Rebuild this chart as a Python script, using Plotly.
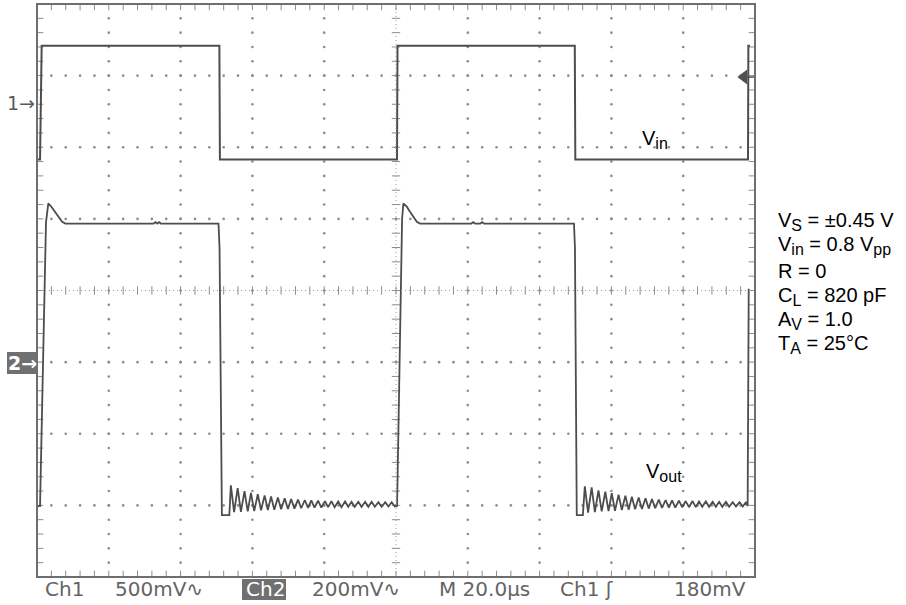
import plotly.graph_objects as go
import numpy as np

# ---------------- scope settings ----------------
time_per_div_us = 20.0
n_xdiv = 10
n_ydiv = 8
ch1_volts_per_div = 0.5
ch2_volts_per_div = 0.2
ch1_position_div = 2.62
ch2_position_div = -1.0
trigger_level_v = 0.18
trigger_time_us = 196.9

# ---------------- Ch1 : Vin (volts vs microseconds) ----------------
vin_t = [0.0, 0.85, 1.3, 50.8, 50.95, 100.28, 100.42, 149.8, 149.95, 198.05, 198.15, 198.6]
vin_v = [-0.395, -0.395, 0.398, 0.398, -0.395, -0.395, 0.398, 0.398, -0.395, -0.395, 0.398, 0.398]

# ---------------- Ch2 : Vout (volts vs microseconds) ----------------
vout_seg1_t = [0.0, 0.85, 2.5, 3.15, 4.0, 5.0, 6.0, 7.0, 7.9, 32.5, 33.0, 33.5, 34.0, 34.5,
               50.56, 50.85, 51.5, 53.57]
vout_seg1_v = [-0.402, -0.402, 0.39, 0.443, 0.434, 0.42, 0.406, 0.392, 0.387, 0.387, 0.391, 0.387, 0.391, 0.387,
               0.387, 0.318, -0.427, -0.427]

ring1_t = [54.0, 54.9, 55.9, 56.8, 57.8, 58.7, 59.6, 60.5, 61.5, 62.4, 63.4, 64.3, 65.2, 66.1, 67.1, 68.0,
           69.0, 69.9, 70.8, 71.7, 72.7, 73.6, 74.6, 75.5, 76.4, 77.3, 78.3, 79.2, 80.2, 81.1, 82.0, 82.9,
           83.9, 84.8, 85.8, 86.7, 87.6, 88.5, 89.5, 90.4, 91.4, 92.3, 93.2, 94.1, 95.1, 96.0, 97.0, 97.9,
           98.8, 99.7]
ring1_v = [-0.344, -0.419, -0.352, -0.418, -0.360, -0.417, -0.365, -0.416, -0.369, -0.414, -0.372, -0.413,
           -0.375, -0.412, -0.378, -0.411, -0.380, -0.410, -0.382, -0.409, -0.384, -0.408, -0.385, -0.407,
           -0.386, -0.406, -0.387, -0.406, -0.388, -0.405, -0.388, -0.405, -0.389, -0.405, -0.389, -0.404,
           -0.390, -0.404, -0.390, -0.404, -0.390, -0.404, -0.390, -0.404, -0.391, -0.404, -0.391, -0.403,
           -0.391, -0.403]

vout_seg2_t = [100.3, 101.7, 102.05, 103.0, 103.9, 104.8, 105.8, 106.7, 121.0, 121.5, 122.0, 123.5, 124.0,
               124.5, 149.58, 149.85, 150.35, 152.05]
vout_seg2_v = [-0.402, 0.40, 0.443, 0.434, 0.420, 0.406, 0.392, 0.387, 0.387, 0.391, 0.387, 0.387, 0.391,
               0.387, 0.387, 0.318, -0.427, -0.427]

ring2_t = [152.6, 153.5, 154.5, 155.4, 156.4, 157.3, 158.3, 159.2, 160.1, 161.0, 162.0, 162.9, 163.9, 164.8,
           165.7, 166.6, 167.6, 168.5, 169.5, 170.4, 171.3, 172.2, 173.2, 174.1, 175.1, 176.0, 176.9, 177.8,
           178.8, 179.7, 180.7, 181.6, 182.6, 183.5, 184.4, 185.3, 186.3, 187.2, 188.2, 189.1, 190.0, 190.9,
           191.9, 192.8, 193.8, 194.7, 195.7, 196.6, 197.5]
ring2_v = [-0.347, -0.420, -0.350, -0.419, -0.358, -0.417, -0.362, -0.416, -0.366, -0.415, -0.370, -0.413,
           -0.373, -0.412, -0.376, -0.411, -0.378, -0.410, -0.380, -0.409, -0.382, -0.408, -0.384, -0.407,
           -0.385, -0.406, -0.386, -0.406, -0.387, -0.405, -0.388, -0.405, -0.388, -0.405, -0.389, -0.404,
           -0.389, -0.404, -0.390, -0.404, -0.390, -0.404, -0.390, -0.404, -0.391, -0.403, -0.391, -0.403,
           -0.391]

vout_end_t = [197.95, 198.25]
vout_end_v = [-0.402, 0.205]

# ---------------- text ----------------
readout_labels = ["Ch1", "500mV\u223f", "Ch2", "200mV\u223f", "M 20.0\u00b5s", "Ch1 \u0283", "180mV"]
SUB = '<sub><span style="font-size:16px">{}</span></sub>'
condition_lines = ["V" + SUB.format("S") + " = \u00b10.45 V",
                   "V" + SUB.format("in") + " = 0.8 V" + SUB.format("pp"),
                   "R = 0",
                   "C" + SUB.format("L") + " = 820 pF",
                   "A" + SUB.format("V") + " = 1.0",
                   "T" + SUB.format("A") + " = 25\u00b0C"]
trace_labels = ["V" + SUB.format("in"), "V" + SUB.format("out")]

# ---------------- layout geometry (pixels) ----------------
W, H = 906, 605
L, R, T, B = 37, 755, 4, 577


def px2x(px):
    return (px - L) / (R - L)


def py2y(py):
    return (B - py) / (B - T)


t_max = time_per_div_us * n_xdiv
half = n_ydiv / 2
ch1_range = [(-half - ch1_position_div) * ch1_volts_per_div, (half - ch1_position_div) * ch1_volts_per_div]
ch2_range = [(-half - ch2_position_div) * ch2_volts_per_div, (half - ch2_position_div) * ch2_volts_per_div]

GRID = "#8c8c8c"
TRACE = "#4d4d4d"

fig = go.Figure()

# ---- graticule dots ----
minor_x = np.arange(0, t_max + 1e-9, time_per_div_us / 5)
minor_y = np.arange(-half, half + 1e-9, 0.2)
dx, dy = [], []
for k in range(1, n_xdiv):
    if k == n_xdiv // 2:
        continue
    for yv in minor_y[1:-1]:
        dx.append(k * time_per_div_us)
        dy.append(yv)
for j in range(-int(half) + 1, int(half)):
    if j == 0:
        continue
    for xv in minor_x[1:-1]:
        dx.append(xv)
        dy.append(j)
fig.add_trace(go.Scatter(x=dx, y=dy, mode="markers", hoverinfo="skip",
                         marker=dict(size=2.6, color=GRID), showlegend=False))

# center-line ticks
fig.add_trace(go.Scatter(x=list(minor_x[1:-1]), y=[0] * (len(minor_x) - 2), mode="markers", hoverinfo="skip",
                         marker=dict(symbol="line-ns", size=6, line=dict(width=1, color=GRID)), showlegend=False))
fig.add_trace(go.Scatter(x=[t_max / 2] * (len(minor_y) - 2), y=list(minor_y[1:-1]), mode="markers",
                         hoverinfo="skip",
                         marker=dict(symbol="line-ew", size=6, line=dict(width=1, color=GRID)), showlegend=False))
# border ticks
bx = list(minor_x) + list(minor_x)
by = [-half] * len(minor_x) + [half] * len(minor_x)
fig.add_trace(go.Scatter(x=bx, y=by, mode="markers", hoverinfo="skip", cliponaxis=True,
                         marker=dict(symbol="line-ns", size=9, line=dict(width=1, color=GRID)), showlegend=False))
bx2 = [0] * len(minor_y) + [t_max] * len(minor_y)
by2 = list(minor_y) + list(minor_y)
fig.add_trace(go.Scatter(x=bx2, y=by2, mode="markers", hoverinfo="skip", cliponaxis=True,
                         marker=dict(symbol="line-ew", size=9, line=dict(width=1, color=GRID)), showlegend=False))

# ---- traces ----
fig.add_trace(go.Scatter(x=vin_t, y=vin_v, yaxis="y2", mode="lines", hoverinfo="skip",
                         line=dict(color=TRACE, width=2), showlegend=False))
vout_t = vout_seg1_t + ring1_t + vout_seg2_t + ring2_t + vout_end_t
vout_v = vout_seg1_v + ring1_v + vout_seg2_v + ring2_v + vout_end_v
fig.add_trace(go.Scatter(x=vout_t, y=vout_v, yaxis="y3", mode="lines", hoverinfo="skip",
                         line=dict(color=TRACE, width=1.8), showlegend=False))

# trigger marker
fig.add_trace(go.Scatter(x=[trigger_time_us], y=[trigger_level_v], yaxis="y2", mode="markers",
                         hoverinfo="skip", marker=dict(symbol="triangle-left", size=13, color="#505050"),
                         showlegend=False))

shapes = []
# center dotted lines
shapes.append(dict(type="line", xref="x", yref="y", x0=t_max / 2, x1=t_max / 2, y0=-half, y1=half,
                   line=dict(color="#9a9a9a", width=1, dash="1px,3px")))
shapes.append(dict(type="line", xref="x", yref="y", x0=0, x1=t_max, y0=0, y1=0,
                   line=dict(color="#9a9a9a", width=1, dash="1px,3px")))
# trigger stem
shapes.append(dict(type="line", xref="x", yref="y2", x0=trigger_time_us, x1=t_max,
                   y0=trigger_level_v, y1=trigger_level_v, line=dict(color="#505050", width=1.5)))
# frame
shapes.append(dict(type="rect", xref="paper", yref="paper", x0=0, x1=1, y0=0, y1=1,
                   line=dict(color="#6e6e6e", width=2), layer="above"))
# Ch2 readout box
shapes.append(dict(type="rect", xref="paper", yref="paper", x0=px2x(242), x1=px2x(286),
                   y0=py2y(600), y1=py2y(579), fillcolor="#707070", line=dict(width=0)))
# "2->" marker box
shapes.append(dict(type="rect", xref="paper", yref="paper", x0=px2x(7), x1=px2x(37),
                   y0=py2y(374), y1=py2y(352), fillcolor="#707070", line=dict(width=0)))

ann = []
SCOPE_FONT = "DejaVu Sans"
readout_x = [43, 113, 244, 310, 437, 558, 672]
for lab, xp in zip(readout_labels, readout_x):
    col = "white" if lab == "Ch2" else "#646464"
    ann.append(dict(text=lab, x=px2x(xp), y=py2y(589), xref="paper", yref="paper", xanchor="left",
                    yanchor="middle", showarrow=False, font=dict(family=SCOPE_FONT, size=20, color=col)))
ann.append(dict(text="1\u2192", x=px2x(37), y=py2y(103), xref="paper", yref="paper", xanchor="right",
                yanchor="middle", showarrow=False, font=dict(family=SCOPE_FONT, size=19, color="#5a5a5a")))
ann.append(dict(text="<b>2\u2192</b>", x=px2x(22), y=py2y(363), xref="paper", yref="paper", xanchor="center",
                yanchor="middle", showarrow=False, font=dict(family=SCOPE_FONT, size=19, color="white")))

TXT_FONT = "Liberation Sans, Arial"
cond_y = [218, 243, 268, 293, 317, 341]
for line, yp in zip(condition_lines, cond_y):
    ann.append(dict(text=line, x=px2x(776), y=py2y(yp + 3), xref="paper", yref="paper", xanchor="left",
                    yanchor="middle", showarrow=False, font=dict(family=TXT_FONT, size=20, color="black")))
ann.append(dict(text=trace_labels[0], x=px2x(640), y=py2y(140), xref="paper", yref="paper", xanchor="left",
                yanchor="middle", showarrow=False, font=dict(family=TXT_FONT, size=20, color="black")))
ann.append(dict(text=trace_labels[1], x=px2x(644), y=py2y(472), xref="paper", yref="paper", xanchor="left",
                yanchor="middle", showarrow=False, font=dict(family=TXT_FONT, size=20, color="black")))

fig.update_layout(
    width=W, height=H,
    margin=dict(l=L, r=W - R, t=T, b=H - B, pad=0),
    paper_bgcolor="white", plot_bgcolor="white",
    xaxis=dict(range=[0, t_max], visible=False, fixedrange=True),
    yaxis=dict(range=[-half, half], visible=False, fixedrange=True),
    yaxis2=dict(range=ch1_range, overlaying="y", visible=False, fixedrange=True),
    yaxis3=dict(range=ch2_range, overlaying="y", visible=False, fixedrange=True),
    shapes=shapes, annotations=ann, showlegend=False,
)

fig.write_html("out.html", config={"displayModeBar": False},
               post_script="document.body.style.margin='0px';document.body.style.overflow='hidden';")
